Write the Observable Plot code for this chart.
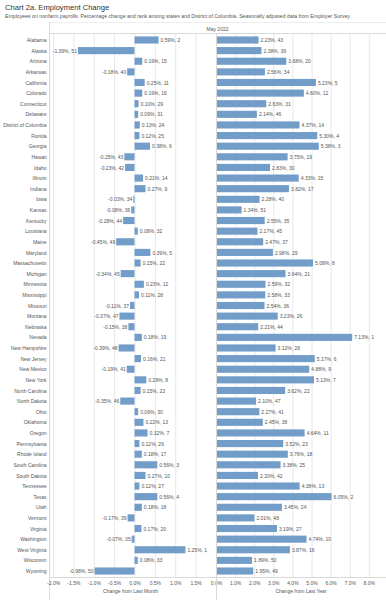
<!DOCTYPE html>
<html><head><meta charset="utf-8">
<script src="https://cdn.jsdelivr.net/npm/d3@7"></script>
<script src="https://cdn.jsdelivr.net/npm/@observablehq/plot@0.6"></script>
<style>
body{margin:0;background:#fff;font-family:"Liberation Sans",Arial,sans-serif;}
#wrap{position:relative;width:386px;height:600px;overflow:hidden;background:#fff;}
.abs{position:absolute;white-space:nowrap;}
svg{overflow:visible;}
</style></head><body><div id="wrap">
<div class="abs" style="left:5px;top:3px;font-size:7.6px;color:#333">Chart 2a. Employment Change</div>
<div class="abs" style="left:5px;top:13px;font-size:5.2px;color:#555">Employees on nonfarm payrolls. Percentage change and rank among states and District of Columbia. Seasonally adjusted data from Employer Survey.</div>
<div class="abs" style="left:49px;top:22px;width:337px;height:0;border-top:1px solid #eee"></div>
<div class="abs" style="left:49px;top:33px;width:337px;height:0;border-top:1px solid #d9d9d9"></div>
<div class="abs" style="left:49px;top:22px;width:0;height:578px;border-left:1px solid #d9d9d9"></div>
<div class="abs" style="left:49px;top:25.5px;width:337px;text-align:center;font-size:5px;color:#555">May 2022</div>
<div id="left" class="abs" style="left:0;top:0"></div>
<div id="right" class="abs" style="left:210px;top:0"></div>
<div class="abs" style="left:215.5px;top:34px;width:0;height:566px;border-left:1px solid #d9d9d9"></div>
<div class="abs" style="left:49px;top:577px;width:337px;height:0;border-top:1px solid #d9d9d9"></div>
<div class="abs" style="left:49px;top:588px;width:163px;text-align:center;font-size:5px;color:#555">Change from Last Month</div>
<div class="abs" style="left:216px;top:588px;width:170px;text-align:center;font-size:5px;color:#555">Change from Last Year</div>
</div>
<script>
const states = ["Alabama","Alaska","Arizona","Arkansas","California","Colorado","Connecticut","Delaware","District of Columbia","Florida","Georgia","Hawaii","Idaho","Illinois","Indiana","Iowa","Kansas","Kentucky","Louisiana","Maine","Maryland","Massachusetts","Michigan","Minnesota","Mississippi","Missouri","Montana","Nebraska","Nevada","New Hampshire","New Jersey","New Mexico","New York","North Carolina","North Dakota","Ohio","Oklahoma","Oregon","Pennsylvania","Rhode Island","South Carolina","South Dakota","Tennessee","Texas","Utah","Vermont","Virginia","Washington","West Virginia","Wisconsin","Wyoming"];
const monthPct = [0.59,-1.39,0.19,-0.18,0.25,0.19,0.10,0.09,0.13,0.12,0.38,-0.25,-0.23,0.21,0.27,-0.03,-0.08,-0.28,0.08,-0.45,0.39,0.15,-0.34,0.23,0.11,-0.11,-0.37,-0.15,0.18,-0.39,0.16,-0.19,0.29,0.15,-0.35,0.09,0.22,0.32,0.12,0.18,0.56,0.27,0.12,0.56,0.18,-0.17,0.17,-0.07,1.25,0.08,-0.98];
const monthRank = [2,51,15,40,11,16,29,31,24,25,6,43,42,14,9,34,36,44,32,49,5,22,45,12,28,37,47,38,19,48,21,41,8,23,46,30,13,7,26,17,3,10,27,4,18,39,20,35,1,33,50];
const yearPct = [2.23,2.38,3.68,2.56,5.23,4.60,2.63,2.14,4.37,5.30,5.38,3.75,2.83,4.33,3.82,2.28,1.34,2.55,2.17,2.47,2.98,5.08,3.64,2.59,2.58,2.54,3.23,2.21,7.13,3.12,5.17,4.88,5.13,3.62,2.10,2.27,2.45,4.64,3.52,3.76,3.38,2.20,4.38,6.05,3.45,2.01,3.19,4.74,3.87,1.89,1.95];
const yearRank = [43,39,20,34,5,12,31,46,14,4,3,19,30,15,17,40,51,35,45,37,29,8,21,32,33,36,26,44,1,28,6,9,7,22,47,41,38,11,23,18,25,42,13,2,24,48,27,10,16,50,49];
const monthTicks = [-2.0,-1.5,-1.0,-0.5,0.0,0.5,1.0,1.5];
const yearTicks = [0,1,2,3,4,5,6,7,8];

const data = states.map((s,i)=>({state:s, m:monthPct[i], mr:monthRank[i], y:yearPct[i], yr:yearRank[i]}));
const fmt = v => v.toFixed(2) + "%";
const tf = v => v.toFixed(1) + "%";
const barColor = "#729dc9";
const common = {
  height: 600, marginTop: 34, marginBottom: 23,
  style: {fontSize: "5px", fontFamily: "'Liberation Sans', Arial, sans-serif", color: "#555", background: "transparent", overflow: "visible"}
};
const yScale = {domain: states, paddingInner: 0.33, paddingOuter: 0.23, label: null};

const left = Plot.plot({
  ...common,
  width: 212, marginLeft: 49, marginRight: 5,
  x: {domain: [-2.1, 1.78], ticks: monthTicks, tickFormat: tf, label: null, tickSize: 0, tickPadding: 3.5},
  y: {...yScale, tickSize: 0, tickPadding: 3},
  marks: [
    Plot.gridX(monthTicks, {stroke: "#e8e8e8", strokeOpacity: 1}),
    Plot.barX(data, {x: "m", y: "state", fill: barColor}),
    Plot.text(data.filter(d => d.m >= 0), {x: "m", y: "state", text: d => fmt(d.m) + ", " + d.mr, textAnchor: "start", dx: 1.5, fill: "#555"}),
    Plot.text(data.filter(d => d.m < 0), {x: "m", y: "state", text: d => fmt(d.m) + ", " + d.mr, textAnchor: "end", dx: -1.5, fill: "#555"})
  ]
});
document.getElementById("left").appendChild(left);

const right = Plot.plot({
  ...common,
  width: 176, marginLeft: 6, marginRight: 0,
  x: {domain: [0, 8.9], ticks: yearTicks, tickFormat: tf, label: null, tickSize: 0, tickPadding: 3.5},
  y: {...yScale, axis: null},
  marks: [
    Plot.gridX(yearTicks, {stroke: "#e8e8e8", strokeOpacity: 1}),
    Plot.barX(data, {x: "y", y: "state", fill: barColor}),
    Plot.text(data, {x: "y", y: "state", text: d => fmt(d.y) + ", " + d.yr, textAnchor: "start", dx: 1.5, fill: "#555"})
  ]
});
document.getElementById("right").appendChild(right);
</script>
</body></html>
